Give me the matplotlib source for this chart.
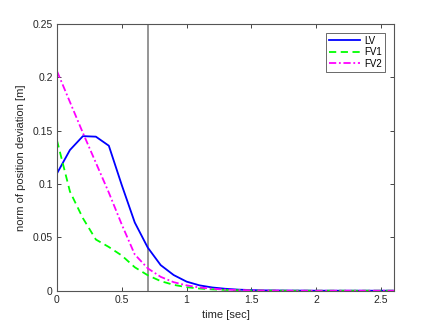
import matplotlib
matplotlib.use("Agg")
import matplotlib.pyplot as plt

plt.rcParams['font.family'] = ['Liberation Sans', 'DejaVu Sans']

# time samples (sec)
t = [0.0, 0.1, 0.2, 0.3, 0.4, 0.5, 0.6, 0.7, 0.8, 0.9, 1.0, 1.1, 1.2, 1.3,
     1.4, 1.5, 1.6, 1.7, 1.8, 1.9, 2.0, 2.1, 2.2, 2.3, 2.4, 2.5, 2.6]

# norm of position deviation [m]
lv = [0.110, 0.132, 0.145, 0.1445, 0.136, 0.099, 0.064, 0.0405, 0.024, 0.0147,
      0.0085, 0.005, 0.003, 0.0018, 0.001, 0.0006, 0.0003, 0.0002, 0.0001, 0.0001,
      0.0, 0.0, 0.0, 0.0, 0.0, 0.0, 0.0]
fv1 = [0.141, 0.093, 0.068, 0.048, 0.041, 0.033, 0.022, 0.0145, 0.009, 0.0055,
       0.0033, 0.002, 0.0012, 0.0007, 0.0004, 0.0002, 0.0001, 0.0001, 0.0, 0.0,
       0.0, 0.0, 0.0, 0.0, 0.0, 0.0, 0.0]
fv2 = [0.206, 0.177, 0.148, 0.120, 0.092, 0.062, 0.034, 0.021, 0.013, 0.008,
       0.005, 0.003, 0.0018, 0.001, 0.0006, 0.0003, 0.0002, 0.0001, 0.0, 0.0,
       0.0, 0.0, 0.0, 0.0, 0.0, 0.0, 0.0]

t_event = 0.7

fig = plt.figure(figsize=(4.36, 3.27), dpi=100)
ax = fig.add_axes([0.1307, 0.111, 0.773, 0.815])

ax.axvline(t_event, color='#8c8c8c', linewidth=1.3)
ax.plot(t, lv, color='#0000ff', linewidth=1.3, label='LV')
ax.plot(t, fv1, color='#00ff00', linewidth=1.3, linestyle=(0, (4, 2.5)), label='FV1')
ax.plot(t, fv2, color='#ff00ff', linewidth=1.3, linestyle=(0, (4, 1.5, 1, 1.5)), label='FV2')

ax.set_xlim(0, 2.6)
ax.set_ylim(0, 0.25)
ax.set_xticks([0, 0.5, 1, 1.5, 2, 2.5])
ax.set_xticklabels(['0', '0.5', '1', '1.5', '2', '2.5'])
ax.set_yticks([0, 0.05, 0.1, 0.15, 0.2, 0.25])
ax.set_yticklabels(['0', '0.05', '0.1', '0.15', '0.2', '0.25'])
ax.tick_params(direction='in', top=True, right=True, labelsize=7.5,
               length=3, width=0.6, colors='#262626', pad=3)
for s in ax.spines.values():
    s.set_color('#555555')
    s.set_linewidth(0.8)

ax.set_xlabel('time [sec]', fontsize=8, color='#262626', labelpad=4)
ax.set_ylabel('norm of position deviation [m]', fontsize=8, color='#262626', labelpad=5)

leg = ax.legend(loc='upper right', fontsize=7, frameon=True, fancybox=False,
                handlelength=3.2, borderpad=0.3, labelspacing=0.15,
                borderaxespad=0.9, handletextpad=0.5)
leg.get_frame().set_edgecolor('#262626')
leg.get_frame().set_linewidth(0.6)

fig.savefig('out.png', dpi=100)
